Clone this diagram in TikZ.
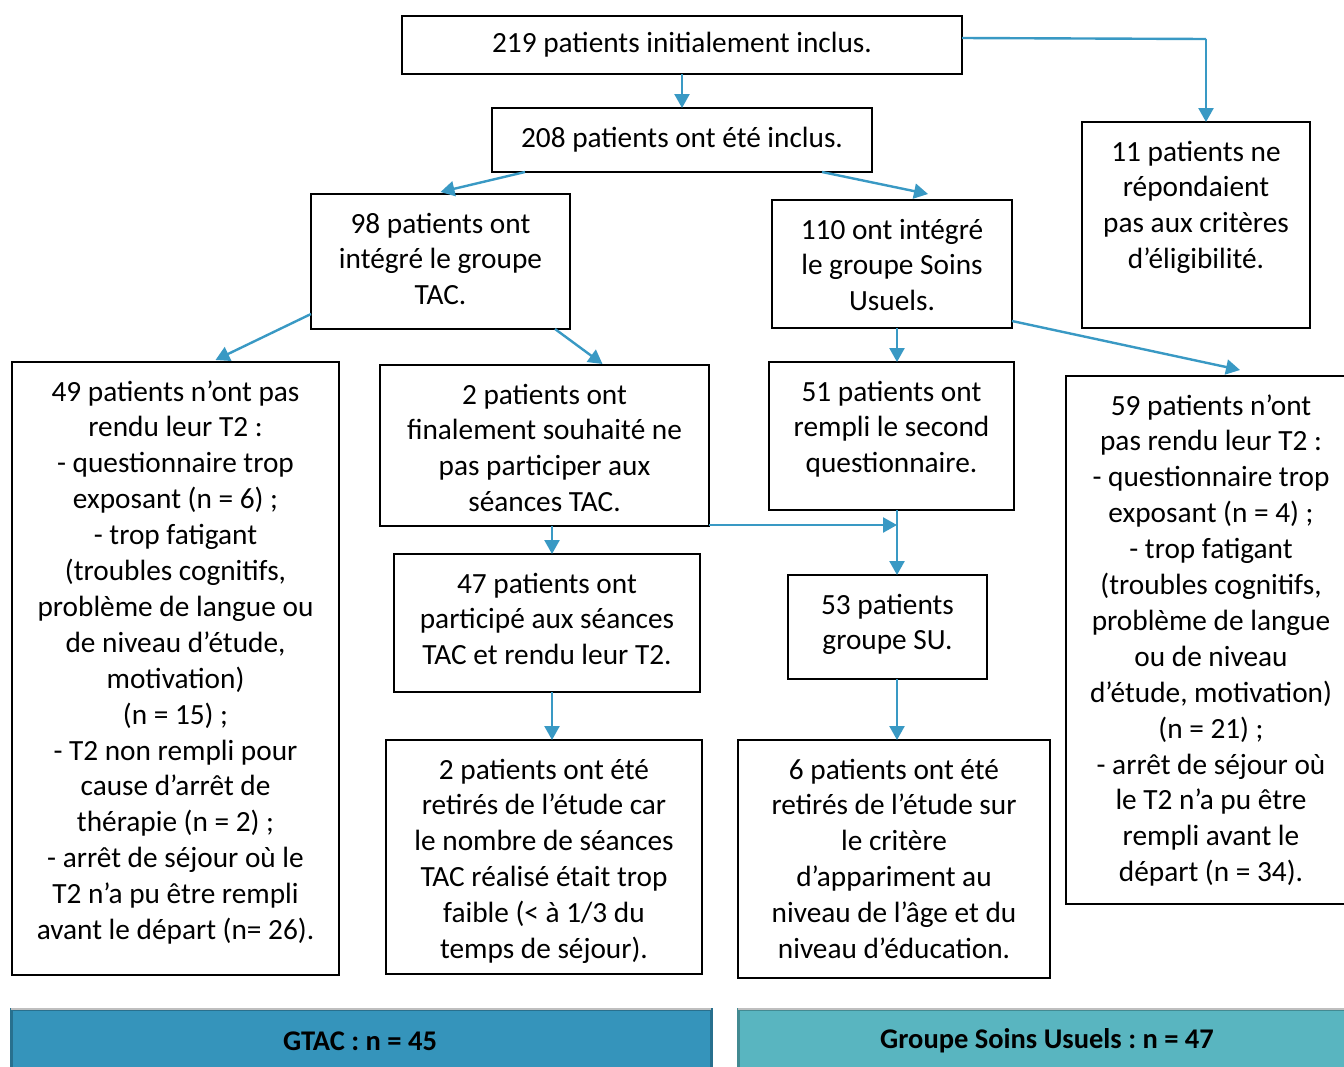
\documentclass[tikz,border=0pt]{standalone}
\usepackage{fontspec}
\setmainfont{Carlito}
\frenchspacing
\usetikzlibrary{arrows.meta,calc}
\definecolor{arr}{RGB}{57,153,196}
\definecolor{barA}{RGB}{53,148,187}
\definecolor{barAd}{RGB}{40,112,142}
\definecolor{barB}{RGB}{89,181,192}
\definecolor{barBd}{RGB}{66,138,146}
\newcommand{\fstrut}{\rule{0pt}{39pt}}
\newcommand{\tbox}[3]{\parbox[c][#2pt][t]{#1pt}{\centering\fontsize{29.3pt}{35.9pt}\selectfont\frenchspacing\fstrut #3\par}}
\begin{document}
\begin{tikzpicture}[x=1pt,y=-1pt,
  box/.style={draw=black,line width=1.6pt,inner sep=0pt,outer sep=0pt,anchor=north west,fill=white},
  sbox/.style={draw=black,line width=1.6pt,inner sep=0pt,outer sep=0pt,align=center,
     font=\fontsize{29.3pt}{35.9pt}\selectfont},
  conn/.style={draw=arr,line width=2.4pt,-{Triangle[width=15pt,length=14pt]}},
  plain/.style={draw=arr,line width=2.4pt},
  bar/.style={line width=3pt,inner sep=0pt,outer sep=0pt},
  bartext/.style={font=\fontsize{28.5pt}{30pt}\selectfont\bfseries}]
\clip (0,0) rectangle (1344,1066);
\fill[white] (0,0) rectangle (1344,1066);

% boxes
\node[sbox,minimum width=560pt,minimum height=58pt] (A) at (682,45) {\raisebox{-2pt}{219 patients initialement inclus.}};
\node[sbox,minimum width=380pt,minimum height=64pt] (B) at (682,140) {\raisebox{-1pt}{208 patients ont été inclus.}};
\node[box] (C) at (1082,122) {\tbox{228}{206}{11 patients ne\\répondaient\\pas aux critères\\d’éligibilité.}};
\node[box] (D) at (311,194) {\tbox{259}{135}{98 patients ont\\intégré le groupe\\TAC.}};
\node[box] (E) at (772,200) {\tbox{240}{128}{110 ont intégré\\le groupe Soins\\Usuels.}};
\node[box] (F) at (12,362) {\tbox{327}{613}{49 patients n’ont pas\\rendu leur T2 :\\- questionnaire trop\\exposant (n = 6) ;\\- trop fatigant\\(troubles cognitifs,\\problème de langue ou\\de niveau d’étude,\\motivation)\\(n = 15) ;\\- T2 non rempli pour\\cause d’arrêt de\\thérapie (n = 2) ;\\- arrêt de séjour où le\\T2 n’a pu être rempli\\avant le départ (n= 26).}};
\node[box] (G) at (380,365) {\tbox{329}{161}{2 patients ont\\finalement souhaité ne\\pas participer aux\\séances TAC.}};
\node[box] (H) at (769,362) {\tbox{245}{148}{51 patients ont\\rempli le second\\questionnaire.}};
\node[box] (I) at (1066,376) {\tbox{290}{528}{59 patients n’ont\\pas rendu leur T2 :\\- questionnaire trop\\exposant (n = 4) ;\\- trop fatigant\\(troubles cognitifs,\\problème de langue\\ou de niveau\\d’étude, motivation)\\(n = 21) ;\\- arrêt de séjour où\\le T2 n’a pu être\\rempli avant le\\départ (n = 34).}};
\node[box] (J) at (394,554) {\tbox{306}{138}{47 patients ont\\participé aux séances\\TAC et rendu leur T2.}};
\node[box] (K) at (788,575) {\tbox{199}{104}{53 patients\\groupe SU.}};
\node[box] (L) at (386,740) {\tbox{316}{234}{2 patients ont été\\retirés de l’étude car\\le nombre de séances\\TAC réalisé était trop\\faible (< à 1/3 du\\temps de séjour).}};
\node[box] (M) at (738,740) {\tbox{312}{238}{6 patients ont été\\retirés de l’étude sur\\le critère\\d’appariment au\\niveau de l’âge et du\\niveau d’éducation.}};

% bars
\node[bar,fill=barA,draw=barAd,minimum width=700pt,minimum height=70pt,anchor=north west] (P) at (11,1009) {};
\node[bartext] (Pt) at (360,1041) {GTAC : n = 45};
\node[bar,fill=barB,draw=barBd,minimum width=620pt,minimum height=70pt,anchor=north west] (Q) at (738,1009) {};
\node[bartext] (Qt) at (1047,1041) {Groupe Soins Usuels : n = 47};
\draw[line width=1.2pt,gray!50] (P.north west) -- (P.north east);
\draw[line width=1.2pt,gray!50] (Q.north west) -- (Q.north east);

% coordinates
\coordinate (cA) at (1206,39);
\coordinate (cE) at (928,194);
\coordinate (cI) at (1240,370);
\coordinate (jn) at (897,525);

% connectors
\draw[plain] ([yshift=7pt]A.east) -- (cA);
\draw[conn] (cA) -- (cA |- C.north);
\draw[conn] (A) -- (B);
\draw[conn] ([xshift=-157pt]B.south) -- ([yshift=2pt]D.north);
\draw[conn] ([xshift=140pt]B.south) -- (cE);
\draw[conn] ([yshift=15pt]D.south west) -- ([xshift=40pt,yshift=2pt]F.north);
\draw[conn] ([xshift=-15pt]D.south east) -- ([xshift=58pt,yshift=1pt]G.north);
\draw[conn] ([xshift=5pt]E.south) -- ([xshift=5pt]E.south |- H.north);
\draw[conn] ([yshift=7pt]E.south east) -- (cI);
\draw[conn] ([xshift=7.5pt]G.south) -- ([xshift=7.5pt]G.south |- J.north);
\draw[conn] ([yshift=1pt]G.south east) -- (jn);
\draw[conn] (H.south -| jn) -- (jn |- K.north);
\draw[conn] ([xshift=5pt]J.south) -- ([xshift=5pt]J.south |- L.north);
\draw[conn] (K.south -| jn) -- (jn |- M.north);
\end{tikzpicture}
\end{document}
